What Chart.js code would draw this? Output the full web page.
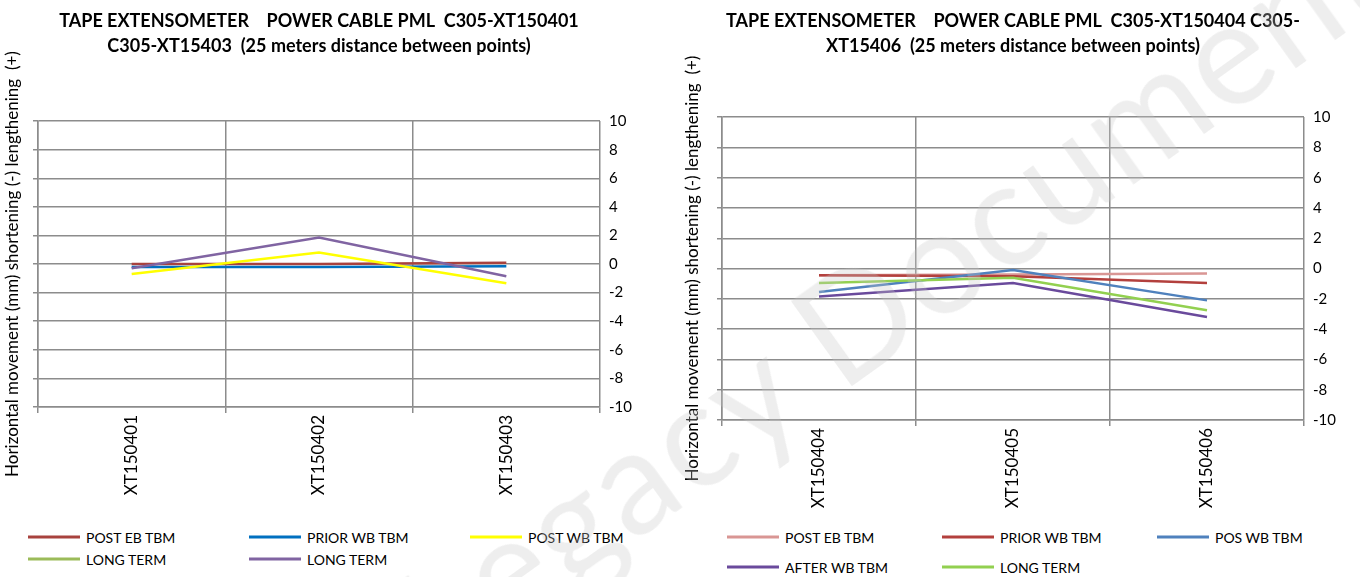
<!DOCTYPE html>
<html>
<head>
<meta charset="utf-8">
<script src="https://cdn.jsdelivr.net/npm/chart.js@4.4.1/dist/chart.umd.min.js"></script>
<style>
  html, body { margin: 0; padding: 0; background: #fff; }
  body { width: 1360px; height: 577px; position: relative; overflow: hidden; font-family: Lato, 'Open Sans', sans-serif; }
  .box { position: absolute; top: 0; width: 680px; height: 520px; }
  .legend-item { position: absolute; display: flex; align-items: center; font-size: 14px; color: #000; white-space: nowrap; transform: translateY(-50%); }
  .legend-item span.swatch { display: inline-block; width: 52px; height: 3px; margin-right: 6px; }
  #watermark { position: absolute; left: 890px; top: 290px; transform: translate(-50%, -50%) rotate(-35.6deg);
    font-size: 145px; font-weight: normal; color: rgba(200,200,200,0.3); white-space: nowrap; pointer-events: none; letter-spacing: 2px; }
</style>
</head>
<body>
<div class="box" style="left:0"><canvas id="leftChart"></canvas></div>
<div class="box" style="left:680px"><canvas id="rightChart"></canvas></div>
<div id="legends"></div>
<div id="watermark">Legacy Document</div>
<script>
// Configuração global
Chart.defaults.font.family = "Lato, 'Open Sans', sans-serif";
Chart.defaults.color = '#000';

// --- DADOS ---
// gráfico esquerdo
const leftCategories = ['XT150401', 'XT150402', 'XT150403'];
const leftNames = ['POST EB TBM', 'PRIOR WB TBM', 'POST WB TBM', 'LONG TERM', 'LONG TERM'];
const leftPostEb = [0, 0, 0.1];
const leftPriorWb = [-0.2, -0.2, -0.15];
const leftPostWb = [-0.7, 0.8, -1.35];
const leftLongTermGreen = [null, null, null];
const leftLongTermPurple = [-0.3, 1.85, -0.85];
const leftColors = ['#A8423E', '#0070C0', '#FFFF00', '#9BBB59', '#8064A2'];

// gráfico direito
const rightCategories = ['XT150404', 'XT150405', 'XT150406'];
const rightNames = ['POST EB TBM', 'PRIOR WB TBM', 'POS WB TBM', 'AFTER WB TBM', 'LONG TERM'];
const rightPostEb = [-0.45, -0.4, -0.33];
const rightPriorWb = [-0.45, -0.5, -0.95];
const rightPosWb = [-1.55, -0.1, -2.1];
const rightAfterWb = [-1.85, -0.95, -3.2];
const rightLongTerm = [-0.95, -0.6, -2.75];
const rightColors = ['#D99694', '#B3403D', '#4F81BD', '#6A4A9C', '#92D050'];

const yTicks = { min: -10, max: 10, step: 2 };
const yTitle = 'Horizontal movement (mm) shortening (-) lengthening  (+)';
const gridGray = '#8C8C8C';

function buildDatasets(names, series, colors) {
    return series.map((data, i) => ({
        label: names[i],
        data: data,
        borderColor: colors[i],
        backgroundColor: colors[i],
        borderWidth: 2.5,
        pointRadius: 0,
        tension: 0,
        fill: false,
        order: series.length - i // séries posteriores por cima (como no Excel)
    }));
}

function makeChart(canvasId, categories, datasets, titleLines, dims) {
    const ctx = document.getElementById(canvasId).getContext('2d');
    return new Chart(ctx, {
        type: 'line',
        data: { labels: categories, datasets: datasets },
        options: {
            responsive: true,
            maintainAspectRatio: false,
            animation: false,
            layout: { padding: { top: 8, left: 0, right: 0, bottom: 0 } },
            plugins: {
                legend: { display: false },
                tooltip: { enabled: false },
                title: {
                    display: true,
                    text: titleLines,
                    fullSize: false,
                    font: { size: 18, weight: 'bold', lineHeight: 1.42 },
                    color: '#000',
                    padding: { top: 0, bottom: dims.titleGap }
                }
            },
            scales: {
                x: {
                    type: 'category',
                    offset: true,
                    grid: { offset: true, color: gridGray, lineWidth: 1.5, tickLength: 6 },
                    border: { color: gridGray, width: 1.5 },
                    ticks: { minRotation: 90, maxRotation: 90, autoSkip: false, font: { size: 17 }, padding: 2 },
                    afterFit: (s) => { s.height = dims.xHeight; }
                },
                y: {
                    position: 'left',
                    min: yTicks.min, max: yTicks.max,
                    ticks: { stepSize: yTicks.step, display: false },
                    grid: { color: gridGray, lineWidth: 1.5, tickLength: 5 },
                    border: { color: gridGray, width: 1.5 },
                    title: { display: true, text: yTitle, font: { size: 17 }, color: '#000', padding: { top: 2, bottom: 0 } },
                    afterFit: (s) => { s.width = dims.yLeft; }
                },
                y2: {
                    position: 'right',
                    min: yTicks.min, max: yTicks.max,
                    ticks: { stepSize: yTicks.step, font: { size: 15 }, padding: 9 },
                    grid: { display: false, drawTicks: false },
                    border: { display: false },
                    afterFit: (s) => { s.width = dims.yRight; }
                }
            }
        }
    });
}

makeChart('leftChart', leftCategories,
    buildDatasets(leftNames, [leftPostEb, leftPriorWb, leftPostWb, leftLongTermGreen, leftLongTermPurple], leftColors),
    ['TAPE EXTENSOMETER    POWER CABLE PML  C305-XT150401', 'C305-XT15403  (25 meters distance between points)'],
    { titleGap: 62, xHeight: 113, yLeft: 38, yRight: 80 });

makeChart('rightChart', rightCategories,
    buildDatasets(rightNames, [rightPostEb, rightPriorWb, rightPosWb, rightAfterWb, rightLongTerm], rightColors),
    ['TAPE EXTENSOMETER    POWER CABLE PML  C305-XT150404 C305-', 'XT15406  (25 meters distance between points)'],
    { titleGap: 58, xHeight: 100, yLeft: 42, yRight: 56 });

// --- LEGENDAS (estilo Excel, colunas fixas) ---
function buildLegend(names, colors, x0, colStep, rowYs) {
    const holder = document.getElementById('legends');
    names.forEach((name, i) => {
        const col = i % 3;
        const row = Math.floor(i / 3);
        const item = document.createElement('div');
        item.className = 'legend-item';
        item.style.left = (x0 + col * colStep) + 'px';
        item.style.top = rowYs[row] + 'px';
        item.innerHTML = `<span class="swatch" style="background:${colors[i]}"></span>${name}`;
        holder.appendChild(item);
    });
}

buildLegend(leftNames, leftColors, 28, 221, [537, 559]);
buildLegend(rightNames, rightColors, 727, 215, [537, 567]);
</script>
</body>
</html>
